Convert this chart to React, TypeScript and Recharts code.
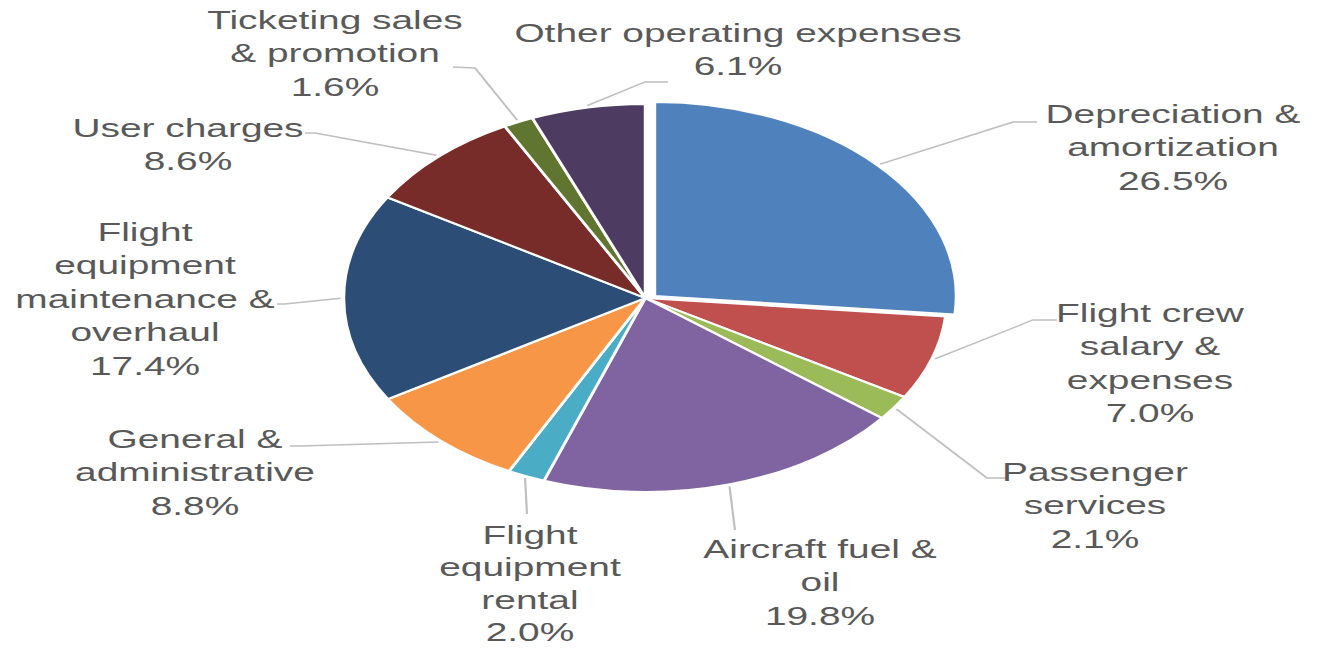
import React from "react";
import { PieChart, Pie, Cell } from "recharts";

// ---- data ----
const categories = [
  "Depreciation & amortization",
  "Flight crew salary & expenses",
  "Passenger services",
  "Aircraft fuel & oil",
  "Flight equipment rental",
  "General & administrative",
  "Flight equipment maintenance & overhaul",
  "User charges",
  "Ticketing sales & promotion",
  "Other operating expenses",
];
const shares = [26.5, 7.0, 2.1, 19.8, 2.0, 8.8, 17.4, 8.6, 1.6, 6.1];
const labelLines = [
  ["Depreciation &", "amortization"],
  ["Flight crew", "salary &", "expenses"],
  ["Passenger", "services"],
  ["Aircraft fuel &", "oil"],
  ["Flight", "equipment", "rental"],
  ["General &", "administrative"],
  ["Flight", "equipment", "maintenance &", "overhaul"],
  ["User charges"],
  ["Ticketing sales", "& promotion"],
  ["Other operating expenses"],
];
const colors = [
  "#4F81BD", "#C0504D", "#9BBB59", "#8064A2", "#4BACC6",
  "#F79646", "#2C4D75", "#772C2A", "#5F7530", "#4D3B62",
];

// ---- layout (screen pixels of the final, horizontally stretched picture) ----
const SX = 1.555;
const W = 1317;
const H = 649;
const IW = W / SX;
const CX = 415;
const CY = 298;
const R = 194;
const EXPLODE = { dx: 6, dy: -2 };
const labelLayout = [
  { x: 1173, y: 114, lh: 33.5, pts: [[1013, 122], [1037, 122]] },
  { x: 1150, y: 313, lh: 33.5, pts: [[1033, 320], [1057, 320]] },
  { x: 1095, y: 472, lh: 33.5, pts: [[987, 478], [1007, 478]] },
  { x: 820, y: 549, lh: 33.5, pts: [[735, 530]] },
  { x: 530, y: 535, lh: 32.5, pts: [[527, 514]] },
  { x: 195, y: 439, lh: 33.5, pts: [[300, 446], [290, 446]] },
  { x: 145, y: 232, lh: 33.5, pts: [[285, 304], [277, 304]] },
  { x: 188, y: 128, lh: 33.5, pts: [[315, 133], [305, 133]] },
  { x: 335, y: 20, lh: 33.5, pts: [[475, 68], [453, 67]] },
  { x: 738, y: 33, lh: 33.5, pts: [[645, 82], [668, 82]] },
];
const RAD = Math.PI / 180;

const data = categories.map((name, i) => ({ name, value: shares[i] }));

const renderLabel = (props: any) => {
  const { cx, cy, midAngle, outerRadius, index } = props;
  const lay = labelLayout[index];
  const ox = index === 0 ? EXPLODE.dx : 0;
  const oy = index === 0 ? EXPLODE.dy : 0;
  const sx0 = cx + ox + (outerRadius + 2) * Math.cos(midAngle * RAD);
  const sy0 = cy + oy - (outerRadius + 2) * Math.sin(midAngle * RAD);
  const pts = [[sx0, sy0], ...lay.pts.map(([px, py]) => [px / SX, py])];
  const lines = [...labelLines[index], `${shares[index].toFixed(1)}%`];
  return (
    <g key={`lbl-${index}`}>
      <polyline
        points={pts.map((p) => p.join(",")).join(" ")}
        fill="none"
        stroke="#BFBFBF"
        strokeWidth={1.4}
      />
      {lines.map((t, j) => (
        <text
          key={j}
          x={lay.x / SX}
          y={lay.y + j * lay.lh}
          textAnchor="middle"
          dominantBaseline="central"
          fontFamily="'Liberation Sans', Arial, sans-serif"
          fontSize={25}
          fill="#595959"
        >
          {t}
        </text>
      ))}
    </g>
  );
};

export default function App() {
  return (
    <div
      style={{
        position: "absolute",
        left: 0,
        top: 0,
        width: W,
        height: H,
        overflow: "hidden",
        background: "#ffffff",
      }}
    >
      <div
        style={{
          width: IW,
          height: H,
          transform: `scaleX(${SX})`,
          transformOrigin: "0 0",
        }}
      >
        <PieChart width={IW} height={H} margin={{ top: 0, right: 0, bottom: 0, left: 0 }}>
          <Pie
            data={data}
            dataKey="value"
            nameKey="name"
            cx={CX}
            cy={CY}
            outerRadius={R}
            startAngle={90}
            endAngle={-270}
            stroke="#ffffff"
            strokeWidth={2}
            label={renderLabel}
            labelLine={false}
            isAnimationActive={false}
          >
            {data.map((d, i) => (
              <Cell
                key={d.name}
                fill={i === 0 ? "none" : colors[i]}
                stroke={i === 0 ? "none" : "#ffffff"}
              />
            ))}
          </Pie>
          <Pie
            data={data}
            dataKey="value"
            nameKey="name"
            cx={CX + EXPLODE.dx}
            cy={CY + EXPLODE.dy}
            outerRadius={R}
            startAngle={90}
            endAngle={-270}
            stroke="#ffffff"
            strokeWidth={2}
            label={false}
            labelLine={false}
            isAnimationActive={false}
          >
            {data.map((d, i) => (
              <Cell
                key={d.name}
                fill={i === 0 ? colors[0] : "none"}
                stroke={i === 0 ? "#ffffff" : "none"}
              />
            ))}
          </Pie>
        </PieChart>
      </div>
    </div>
  );
}
